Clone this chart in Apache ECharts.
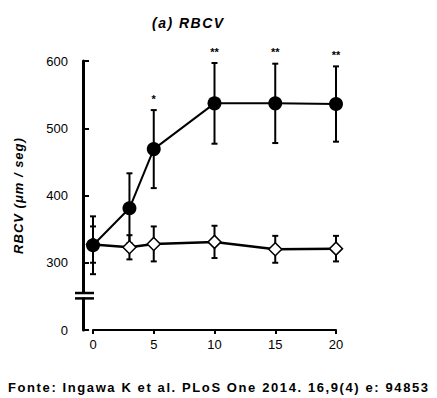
<!DOCTYPE html>
<html>
<head>
<meta charset="utf-8">
<script src="https://cdn.jsdelivr.net/npm/echarts@6/dist/echarts.min.js"></script>
<style>
  html, body { margin: 0; padding: 0; background: #fff; }
  #chart { width: 437px; height: 398px; }
</style>
</head>
<body>
<div id="chart"></div>
<script>
// dados (dias)
const days = [0, 3, 5, 10, 15, 20];
const treatedMean = [326, 381, 469, 537, 537, 536];
const treatedErr = [43, 52, 58, 60, 59, 56];
const controlMean = [327, 323, 328, 331, 320, 321];
const controlErr = [27, 18, 26, 24, 20, 19];
const signif = ['', '', '*', '**', '**', '**'];
// eixo Y quebrado: o valor 200 do eixo aparece como "0"
const yTicks = [200, 300, 400, 500, 600];
const yTickLabels = ['0', '300', '400', '500', '600'];
const axisBreak = [247, 255];

const FONT = '"Liberation Sans", Arial, sans-serif';
const TITLE = '(a) RBCV';
const FOOTER = 'Fonte: Ingawa K et al. PLoS One 2014. 16,9(4) e: 94853';
const YNAME = 'RBCV (\u03bcm / seg)';

const chart = echarts.init(document.getElementById('chart'), null, { renderer: 'svg' });

function errorBars(means, errs, withSig) {
  return days.map((d, i) => [d, means[i] - errs[i], means[i] + errs[i], withSig ? signif[i] : '']);
}

function renderErr(params, api) {
  const x = api.value(0);
  const lo = api.coord([x, api.value(1)]);
  const hi = api.coord([x, api.value(2)]);
  const w = 3;
  const st = { stroke: '#000', lineWidth: 2 };
  const children = [
    { type: 'line', shape: { x1: lo[0], y1: lo[1], x2: hi[0], y2: hi[1] }, style: st },
    { type: 'line', shape: { x1: lo[0] - w, y1: lo[1], x2: lo[0] + w, y2: lo[1] }, style: st },
    { type: 'line', shape: { x1: hi[0] - w, y1: hi[1], x2: hi[0] + w, y2: hi[1] }, style: st }
  ];
  const s = api.value(3);
  if (s) {
    children.push({
      type: 'text',
      style: {
        text: s, x: hi[0], y: hi[1] - 6, align: 'center', verticalAlign: 'bottom',
        font: 'bold 11px ' + FONT, fill: '#000'
      }
    });
  }
  return { type: 'group', children: children };
}

const option = {
  animation: false,
  title: [
    {
      text: TITLE,
      left: 147, top: 11,
      textStyle: { fontFamily: FONT, fontSize: 14, fontWeight: 'bold', fontStyle: 'italic', color: '#000' }
    },
    {
      text: FOOTER,
      left: 3, top: 376,
      textStyle: { fontFamily: FONT, fontSize: 13, fontWeight: 'bold', color: '#000' }
    }
  ],
  grid: { left: 93, right: 101, top: 61, bottom: 68 },
  xAxis: {
    type: 'value', min: 0, max: 20, interval: 5,
    axisLine: { onZero: false, lineStyle: { color: '#000', width: 2 } },
    axisTick: { length: 4, lineStyle: { color: '#000', width: 2 } },
    axisLabel: { color: '#000', fontSize: 13, margin: 8, fontFamily: FONT },
    splitLine: { show: false }
  },
  yAxis: {
    type: 'value', min: 200, max: 600, interval: 100, offset: 10,
    name: YNAME, nameLocation: 'middle', nameRotate: 90, nameGap: 58,
    nameTextStyle: { fontFamily: FONT, fontSize: 13, fontWeight: 'bold', fontStyle: 'italic', color: '#000' },
    axisLine: { show: true, onZero: false, lineStyle: { color: '#000', width: 3 } },
    axisTick: { show: true, inside: true, length: 6, lineStyle: { color: '#000', width: 2 } },
    axisLabel: {
      color: '#000', fontSize: 13, margin: 15, fontFamily: FONT,
      formatter: v => yTickLabels[yTicks.indexOf(v)] || ''
    },
    splitLine: { show: false }
  },
  series: [
    {
      type: 'custom', renderItem: renderErr, z: 2,
      data: errorBars(treatedMean, treatedErr, true)
    },
    {
      type: 'custom', renderItem: renderErr, z: 2,
      data: errorBars(controlMean, controlErr, false)
    },
    {
      type: 'line', z: 3,
      data: days.map((d, i) => [d, controlMean[i]]),
      symbol: 'diamond', symbolSize: 13,
      lineStyle: { color: '#000', width: 2.5 },
      itemStyle: { color: '#fff', borderColor: '#000', borderWidth: 1.5 }
    },
    {
      type: 'line', z: 4,
      data: days.map((d, i) => [d, treatedMean[i]]),
      symbol: 'circle', symbolSize: 14,
      lineStyle: { color: '#000', width: 2 },
      itemStyle: { color: '#000' }
    }
  ]
};
chart.setOption(option);

// quebra do eixo Y
const yAxisX = chart.convertToPixel({ xAxisIndex: 0 }, 0) - 10;
const yLo = chart.convertToPixel({ yAxisIndex: 0 }, axisBreak[0]);
const yHi = chart.convertToPixel({ yAxisIndex: 0 }, axisBreak[1]);
chart.setOption({
  graphic: [
    { type: 'rect', shape: { x: yAxisX - 3, y: yHi + 1, width: 6, height: yLo - yHi - 2 }, style: { fill: '#fff' }, z: 10 },
    { type: 'line', shape: { x1: yAxisX - 8, y1: yHi, x2: yAxisX + 11, y2: yHi }, style: { stroke: '#000', lineWidth: 2.5 }, z: 10 },
    { type: 'line', shape: { x1: yAxisX - 8, y1: yLo, x2: yAxisX + 11, y2: yLo }, style: { stroke: '#000', lineWidth: 2.5 }, z: 10 }
  ]
});

// espacamento entre letras como no original
function spaceLetters() {
  const spacing = {};
  spacing[TITLE] = '1.5px';
  spacing[FOOTER] = '1.6px';
  spacing[YNAME] = '1px';
  document.querySelectorAll('#chart text').forEach(t => {
    const s = spacing[t.textContent];
    if (s) t.style.letterSpacing = s;
  });
}
spaceLetters();
chart.on('finished', spaceLetters);
</script>
</body>
</html>
